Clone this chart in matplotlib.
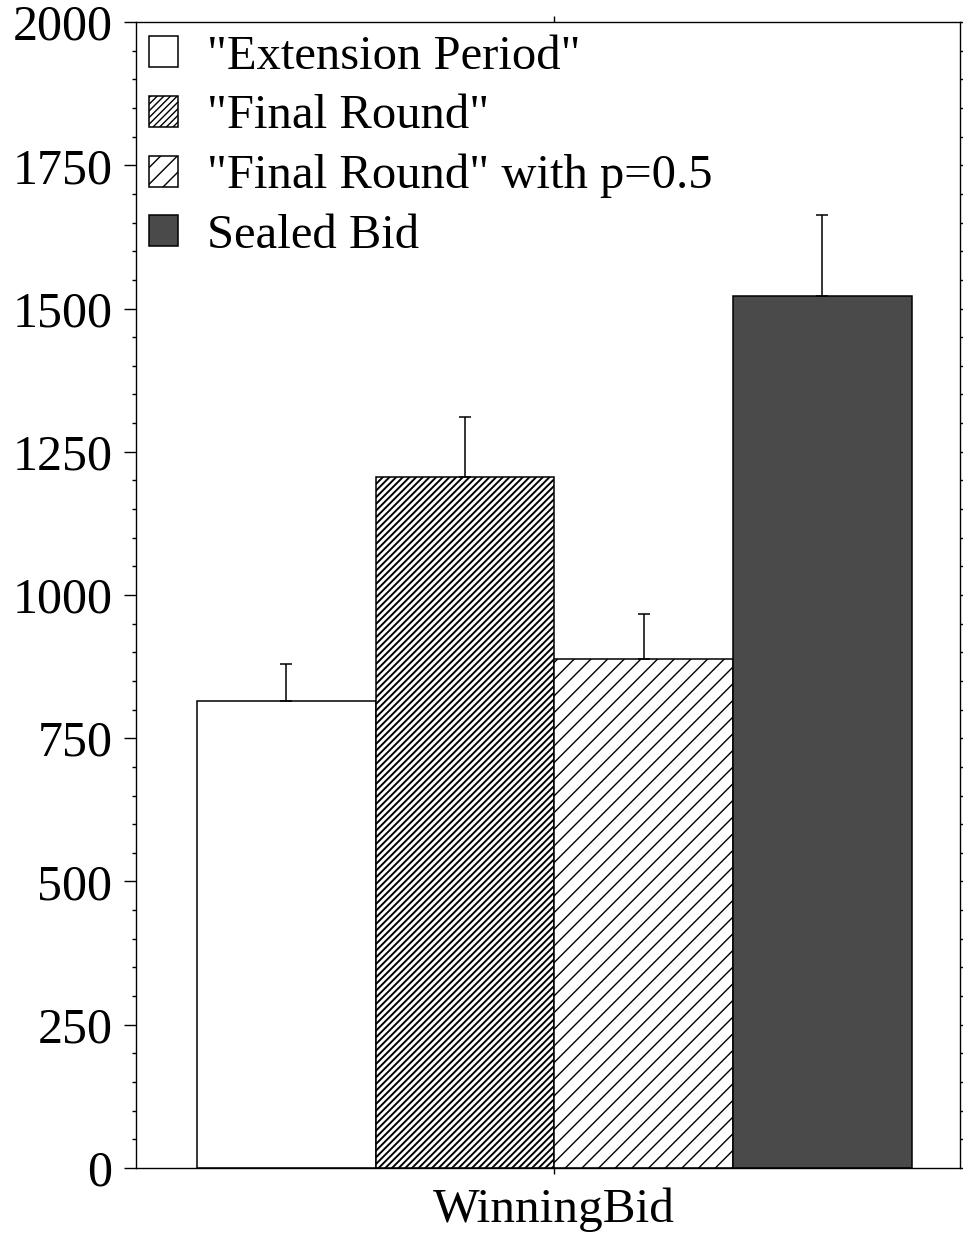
import matplotlib.pyplot as plt
from matplotlib.ticker import MultipleLocator

# data
categories = ["WinningBid"]
series = ['"Extension Period"', '"Final Round"', '"Final Round" with p=0.5', 'Sealed Bid']
means = [815, 1206, 888, 1521]
errors = [65, 105, 79, 143]

# styling per series
faces = ["white", "white", "white", "#4a4a4a"]
hatches = [None, "/////", "//", None]
hatch_lw = [1.0, 1.4, 1.0, 1.0]

plt.rcParams["font.family"] = ["Liberation Serif", "DejaVu Serif"]

fig = plt.figure(figsize=(9.63, 12.37), dpi=100)
ax = fig.add_axes([0.1412, 0.0558, 0.8557, 0.9264])

width = 1.0
offsets = [-1.5, -0.5, 0.5, 1.5]
for i in range(len(series)):
    with plt.rc_context({"hatch.linewidth": hatch_lw[i]}):
        ax.bar(offsets[i] * width, means[i], width, color=faces[i], hatch=hatches[i],
               edgecolor="black", linewidth=1.1, label=series[i], zorder=2)
    ax.errorbar(offsets[i] * width, means[i], yerr=[[0], [errors[i]]], fmt="none",
                ecolor="black", elinewidth=1.1, capsize=4, capthick=1.1, zorder=3)

ax.set_xlim(-2.34, 2.27)
ax.set_ylim(0, 2000)
ax.set_xticks([0])
ax.set_xticklabels(categories, fontsize=35.5)
ax.yaxis.set_major_locator(MultipleLocator(250))
ax.yaxis.set_minor_locator(MultipleLocator(50))
ax.tick_params(axis="y", which="major", labelsize=36, direction="out", length=9, width=1, pad=8,
               right=True)
ax.tick_params(axis="y", which="minor", direction="out", length=3, width=1, right=True)
ax.tick_params(axis="x", direction="out", length=4, width=1, pad=10, top=True)
for s in ax.spines.values():
    s.set_linewidth(1)

ax.legend(loc="upper left", bbox_to_anchor=(0.0, 1.0), frameon=False, fontsize=35,
          handlelength=0.6, handleheight=0.6, handletextpad=0.6, labelspacing=0.32,
          borderaxespad=0.0, borderpad=0.26)

fig.savefig("out.png", dpi=100)
